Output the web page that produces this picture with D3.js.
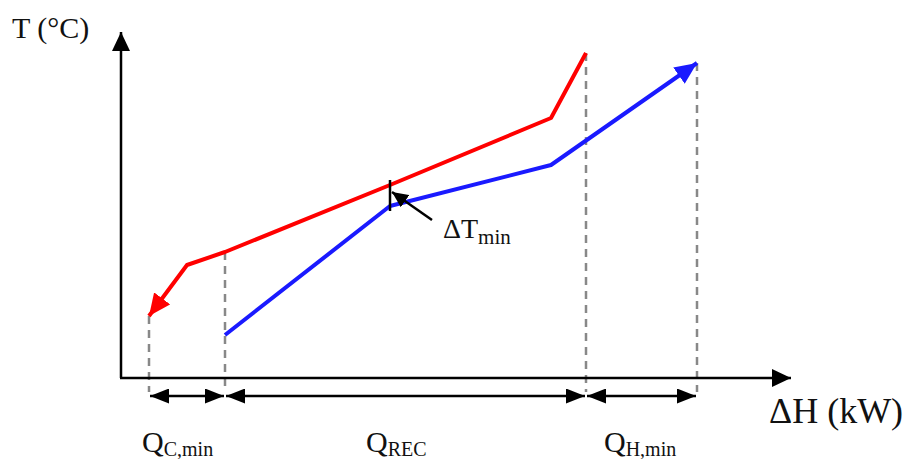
<!DOCTYPE html>
<html>
<head>
<meta charset="utf-8">
<script src="https://cdn.jsdelivr.net/npm/d3@7"></script>
<style>
  body { margin: 0; background: #fff; }
  text { font-family: "Liberation Serif", "Times New Roman", serif; fill: #111; }
</style>
</head>
<body>
<div id="chart"></div>
<script>
// composite curves (arbitrary units: dH in kW, T in degC)
var hotH = [28, 66, 104, 269, 430, 465];
var hotT = [62, 113, 126, 193, 260, 325];
var coldH = [104, 269, 430, 576];
var coldT = [43, 172, 213, 315];

// enthalpy boundaries: Qc,min | Qrec | Qh,min
var bounds = [28, 104, 465, 576];
var boundTop = [62, 126, 325, 315];
var spanLabels = [["Q", "C,min"], ["Q", "REC"], ["Q", "H,min"]];

var svgWidth = 915;
var svgHeight = 459;

var svg = d3.select("#chart")
    .append("svg")
    .attr("width", svgWidth)
    .attr("height", svgHeight);

// scales
var xScale = d3.scaleLinear().domain([0, 670]).range([121, 791]);
var yScale = d3.scaleLinear().domain([0, 346]).range([378, 32]);

var defs = svg.append("defs");
function arrowMarker(id, color, len, w) {
    defs.append("marker")
        .attr("id", id)
        .attr("markerUnits", "userSpaceOnUse")
        .attr("viewBox", `0 ${-w / 2} ${len} ${w}`)
        .attr("refX", len)
        .attr("refY", 0)
        .attr("markerWidth", len)
        .attr("markerHeight", w)
        .attr("orient", "auto-start-reverse")
        .append("path")
        .attr("d", `M0,${-w / 2}L${len},0L0,${w / 2}Z`)
        .attr("fill", color);
}
arrowMarker("axisHead", "#000", 19, 18);
arrowMarker("spanHead", "#000", 19, 15);
arrowMarker("redHead", "#ff0000", 22, 20);
arrowMarker("blueHead", "#1a1aff", 22, 20);
arrowMarker("smallHead", "#000", 16, 15);

// dashed boundary lines
svg.selectAll(".bound")
    .data(bounds)
    .enter()
    .append("line")
    .attr("x1", d => xScale(d))
    .attr("x2", d => xScale(d))
    .attr("y1", (d, i) => yScale(boundTop[i]))
    .attr("y2", yScale(0) + 14)
    .attr("stroke", "#888")
    .attr("stroke-width", 2.5)
    .attr("stroke-dasharray", "8,6");

// axes
svg.append("line")
    .attr("x1", xScale(0)).attr("y1", yScale(0))
    .attr("x2", xScale(0)).attr("y2", yScale(346))
    .attr("stroke", "#000").attr("stroke-width", 2.5)
    .attr("marker-end", "url(#axisHead)");
svg.append("line")
    .attr("x1", xScale(0) - 1).attr("y1", yScale(0))
    .attr("x2", xScale(670)).attr("y2", yScale(0))
    .attr("stroke", "#000").attr("stroke-width", 2.5)
    .attr("marker-end", "url(#axisHead)");

// curves
var line = d3.line().x(d => xScale(d[0])).y(d => yScale(d[1]));
var hot = d3.zip(hotH, hotT).reverse();
var cold = d3.zip(coldH, coldT);

svg.append("path")
    .attr("d", line(hot))
    .attr("fill", "none")
    .attr("stroke", "#ff0000")
    .attr("stroke-width", 4)
    .attr("stroke-linejoin", "round")
    .attr("marker-end", "url(#redHead)");

svg.append("path")
    .attr("d", line(cold))
    .attr("fill", "none")
    .attr("stroke", "#1a1aff")
    .attr("stroke-width", 4)
    .attr("stroke-linejoin", "round")
    .attr("marker-end", "url(#blueHead)");

// delta T min marker at the pinch
var pinchX = xScale(coldH[1]);
svg.append("line")
    .attr("x1", pinchX).attr("x2", pinchX)
    .attr("y1", yScale(hotT[3]) - 5).attr("y2", yScale(coldT[1]) + 5)
    .attr("stroke", "#000").attr("stroke-width", 2.5);
svg.append("line")
    .attr("x1", pinchX + 42).attr("y1", yScale(coldT[1]) + 14)
    .attr("x2", pinchX + 2).attr("y2", yScale(hotT[3]) + 7)
    .attr("stroke", "#000").attr("stroke-width", 2.5)
    .attr("marker-end", "url(#smallHead)");

var dt = svg.append("text")
    .attr("x", pinchX + 53).attr("y", 238)
    .attr("font-size", 28);
dt.append("tspan").text("\u0394T");
dt.append("tspan").attr("font-size", 21).attr("dy", 6).text("min");

// span arrows under the x axis
var spanY = yScale(0) + 18;
svg.selectAll(".span")
    .data(d3.pairs(bounds))
    .enter()
    .append("line")
    .attr("x1", d => xScale(d[0]) + 1)
    .attr("x2", d => xScale(d[1]) - 1)
    .attr("y1", spanY).attr("y2", spanY)
    .attr("stroke", "#000").attr("stroke-width", 2.5)
    .attr("marker-start", "url(#spanHead)")
    .attr("marker-end", "url(#spanHead)");

var labelX = [142, 366, 604];
var lbl = svg.selectAll(".spanLabel")
    .data(spanLabels)
    .enter()
    .append("text")
    .attr("x", (d, i) => labelX[i])
    .attr("y", 452)
    .attr("font-size", 30);
lbl.append("tspan").text(d => d[0]);
lbl.append("tspan").attr("font-size", 20).attr("dy", 4).text(d => d[1]);

// axis titles
svg.append("text")
    .attr("x", 12).attr("y", 38)
    .attr("font-size", 30)
    .text("T (\u00B0C)");
svg.append("text")
    .attr("x", 769).attr("y", 423)
    .attr("font-size", 36)
    .text("\u0394H (kW)");
</script>
</body>
</html>
